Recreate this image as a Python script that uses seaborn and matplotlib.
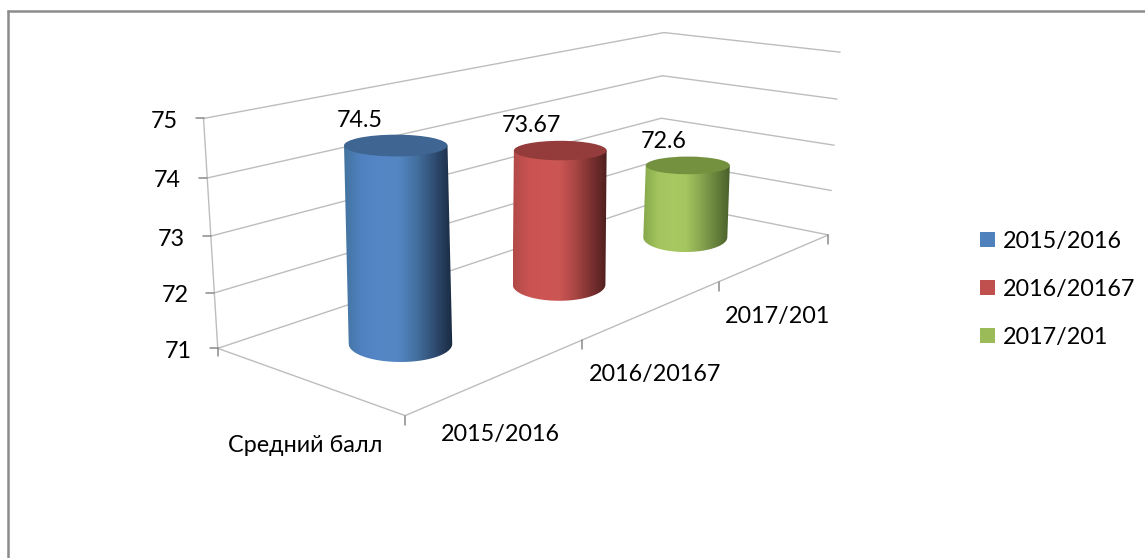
import numpy as np
import pandas as pd
import matplotlib
matplotlib.use('Agg')
import matplotlib.pyplot as plt
from matplotlib.path import Path
from matplotlib.patches import PathPatch, Ellipse, Rectangle
import seaborn as sns

# Chart values
series_names = ['2015/2016', '2016/20167', '2017/201']
series_values = [74.5, 73.67, 72.6]
value_labels = ['74.5', '73.67', '72.6']
value_ticks = [71, 72, 73, 74, 75]
category_name = 'Средний балл'

sns.set_theme(style='white')
plt.rcParams['font.family'] = ['Lato', 'Open Sans', 'DejaVu Sans']

W, H = 1145, 558
fig = plt.figure(figsize=(W / 100, H / 100), dpi=100)
ax = fig.add_axes([0, 0, 1, 1])
ax.set_xlim(0, W)
ax.set_ylim(H, 0)
ax.axis('off')

# Fit a camera for the fake 3D box: (series pos, depth, value) -> pixels
box_3d = [(0, 0, 71), (1, 0, 71), (2, 0, 71), (3, 0, 71),
          (0, 1, 71), (0, 1, 72), (0, 1, 73), (0, 1, 74), (0, 1, 75),
          (3, 1, 71), (3, 1, 73), (3, 1, 75), (3, 0, 75), (3, 0, 73)]
box_px = [(405, 414), (582, 340), (719, 282), (829, 236),
          (217, 350), (214, 294), (211, 236), (208, 177), (204, 118),
          (659, 198), (662, 120), (663, 33), (840, 51), (834, 146)]
rows = []
rhs = []
for (a, b, c), (px, py) in zip(box_3d, box_px):
    rows.append([a, b, c, 1, 0, 0, 0, 0, -px * a, -px * b, -px * c])
    rows.append([0, 0, 0, 0, a, b, c, 1, -py * a, -py * b, -py * c])
    rhs += [px, py]
cam = np.linalg.lstsq(np.array(rows, float), np.array(rhs, float), rcond=None)[0]
cam = np.append(cam, 1).reshape(3, 4)


def project(a, b, c):
    p = cam @ np.array([a, b, c, 1.0])
    return p[0] / p[2], p[1] / p[2]


def line3d(start, end, color='#bdbdbd', lw=1.0):
    pts = [project(*start), project(*end)]
    d = pd.DataFrame(pts, columns=['x', 'y'])
    sns.lineplot(data=d, x='x', y='y', ax=ax, sort=False, estimator=None,
                 color=color, lw=lw, legend=False, zorder=2)


# walls
for v in value_ticks:
    line3d((0, 1, v), (3, 1, v))
    line3d((3, 1, v), (3, 0, v))
line3d((0, 1, 71), (0, 1, 75))
line3d((0, 1, 71), (0, 0, 71))
line3d((0, 0, 71), (3, 0, 71))
ax.set_xlim(0, W)
ax.set_ylim(H, 0)

# ticks
tick_color = '#8a8a8a'
for v in value_ticks:
    x, y = project(0, 1, v)
    ax.plot([x - 8, x], [y, y], color=tick_color, lw=1.1, zorder=2)
for s in range(4):
    x, y = project(s, 0, 71)
    ax.plot([x, x], [y, y + 9], color=tick_color, lw=1.1, zorder=2)
x, y = project(0, 1, 71)
ax.plot([x, x], [y, y + 8], color=tick_color, lw=1.1, zorder=2)

# cylinder shading, left to right across the body
shades = [
    ['#44749f', '#5082c2', '#5587c6', '#5486c4', '#44709f', '#2f4c72', '#1a2a40'],
    ['#b14a48', '#c95351', '#cd5654', '#cb5553', '#a84644', '#7a3130', '#4f1f1e'],
    ['#86a84a', '#a2c35d', '#a8c862', '#a5c55f', '#88a650', '#68833c', '#4a5f2b'],
]
top_colors = ['#3f6592', '#943c3b', '#74913f']
legend_colors = ['#4f81bd', '#c0504d', '#9bbb59']
depth = 0.505
half_width = 0.94  # of one value unit on screen
top_ratio, base_ratio = 0.21, 0.35
label_xy = []

# far cylinder first so the near ones overlap it
for i in [2, 1, 0]:
    cx_b, cy_b = project(i + 0.5, depth, 71)
    cx_t, cy_t = project(i + 0.5, depth, series_values[i])
    unit = cy_b - project(i + 0.5, depth, 72)[1]
    hw = half_width * unit
    t = np.linspace(np.pi, 0, 60)
    outline = [(cx_t - hw, cy_t)]
    outline += list(zip(cx_b + hw * np.cos(t), cy_b + base_ratio * hw * np.sin(t)))
    outline += [(cx_t + hw, cy_t), (cx_t - hw, cy_t)]
    body = PathPatch(Path(outline), fc='none', ec='none', transform=ax.transData)
    ax.add_patch(body)

    grad = np.array(sns.blend_palette(shades[i], n_colors=256)).reshape(1, 256, 3)
    x0, x1 = min(cx_t, cx_b) - hw, max(cx_t, cx_b) + hw
    img = ax.imshow(grad, extent=(x0, x1, cy_b + hw, cy_t - hw), aspect='auto',
                    zorder=3 + (2 - i) * 0.1, interpolation='bilinear')
    img.set_clip_path(body)
    ax.add_patch(Ellipse((cx_t, cy_t), 2 * hw, 2 * top_ratio * hw, fc=top_colors[i],
                         ec='none', zorder=3.05 + (2 - i) * 0.1))
    label_xy.append((cx_t, cy_t))

label_xy = label_xy[::-1]
ax.set_xlim(0, W)
ax.set_ylim(H, 0)

# text
fs = 16.8
txt = dict(color='black', fontsize=fs, va='center')
label_offsets = [(-36, -25), (-29, -25), (-24, -24)]
for i, lab in enumerate(value_labels):
    ax.text(label_xy[i][0] + label_offsets[i][0], label_xy[i][1] + label_offsets[i][1],
            lab, ha='center', zorder=6, **txt)

for v in value_ticks:
    x, y = project(0, 1, v)
    ax.text(x - 26, y + 3, str(v), ha='right', **txt)

series_label_pos = [(500, 435), (655, 374), (778, 316)]
for name, (lx, ly) in zip(series_names, series_label_pos):
    ax.text(lx, ly, name, ha='center', **txt)
ax.text(305, 445, category_name, ha='center', **txt)

# legend
for name, col, ly in zip(series_names, legend_colors, [240, 288, 336]):
    ax.add_patch(Rectangle((980, ly - 8), 15, 15, fc=col, ec='none', zorder=4))
    ax.text(1003, ly + 1.5, name, ha='left', **txt)

# chart frame, only top and left show
ax.plot([7, W], [10.5, 10.5], color='#8c8c8c', lw=1.8, zorder=1, solid_capstyle='butt')
ax.plot([8, 8], [10, H], color='#8c8c8c', lw=1.8, zorder=1, solid_capstyle='butt')

fig.savefig('out.png', dpi=100, facecolor='white')
